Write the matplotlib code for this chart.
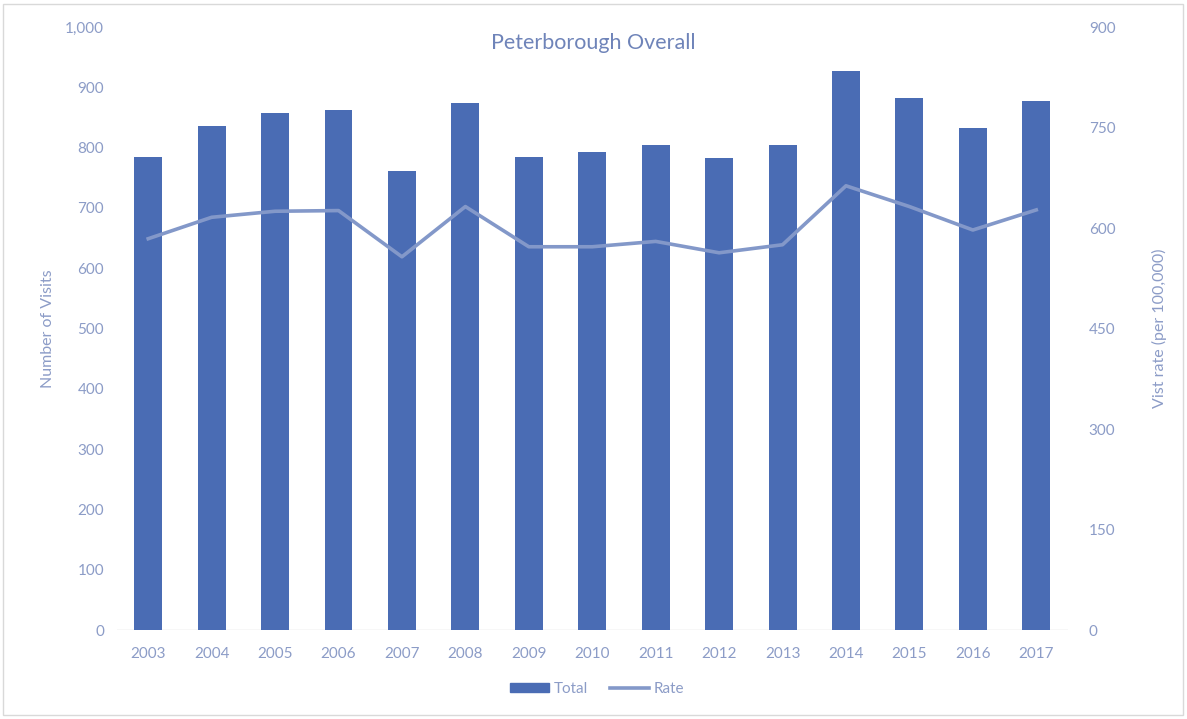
import matplotlib
matplotlib.use("Agg")
import matplotlib.pyplot as plt
from matplotlib.patches import Rectangle
from matplotlib.lines import Line2D
from matplotlib.ticker import FuncFormatter, MultipleLocator

years = ["2003", "2004", "2005", "2006", "2007", "2008", "2009", "2010",
         "2011", "2012", "2013", "2014", "2015", "2016", "2017"]
total_visits = [785, 835, 858, 862, 762, 874, 785, 792,
                804, 783, 804, 927, 882, 833, 878]
visit_rate = [584, 616, 625, 626, 557, 632, 572, 572,
              580, 563, 575, 663, 632, 597, 627]

bar_color = "#4a6cb4"
line_color = "#8398c9"
text_color = "#8c9cc7"
title_color = "#6f84b9"

plt.rcParams["font.family"] = ["Lato", "DejaVu Sans"]

fig = plt.figure(figsize=(11.87, 7.19), dpi=100)
W, H = 1187, 719
ax = fig.add_axes([116.5 / W, 1 - 630 / H, (1068 - 116.5) / W, (630 - 27) / H])
ax2 = ax.twinx()

x = list(range(len(years)))
ax.bar(x, total_visits, width=0.44, color=bar_color, zorder=2)
ax2.plot(x, visit_rate, color=line_color, linewidth=2.6, zorder=3)

ax.set_xlim(-0.5, len(years) - 0.5)
ax.set_ylim(0, 1000)
ax2.set_ylim(0, 900)
ax.yaxis.set_major_locator(MultipleLocator(100))
ax2.yaxis.set_major_locator(MultipleLocator(150))
ax.yaxis.set_major_formatter(FuncFormatter(lambda v, p: f"{int(v):,}"))

ax.set_xticks(x)
ax.set_xticklabels(years)

for a in (ax, ax2):
    for s in ("top", "left", "right", "bottom"):
        a.spines[s].set_visible(False)
    a.tick_params(length=0, labelsize=11, colors=text_color)
ax.tick_params(axis="y", pad=9)
ax2.tick_params(axis="y", pad=15)
ax.tick_params(axis="x", pad=12)
ax.axhline(0, color="#d9d9d9", linewidth=1, zorder=1)
ax.set_zorder(ax2.get_zorder() - 1)
ax.patch.set_visible(False)

ax.set_ylabel("Number of Visits", color=text_color, fontsize=11.5, labelpad=7)
ax2.set_ylabel("Vist rate (per 100,000)", color=text_color, fontsize=11.5, labelpad=26)

fig.text(593 / W, 1 - 43 / H, "Peterborough Overall", ha="center", va="center",
         fontsize=15.5, color=title_color)

handles = [Rectangle((0, 0), 1, 1, color=bar_color),
           Line2D([0], [0], color=line_color, linewidth=2.6)]
fig.legend(handles, ["Total", "Rate"], loc="center", bbox_to_anchor=(597 / W, 1 - 689 / H),
           ncol=2, frameon=False, fontsize=11, labelcolor=text_color,
           handlelength=2.6, handletextpad=0.3, columnspacing=1.4,
           handleheight=0.6)

fig.patches.append(Rectangle((3 / W, 4 / H), 1180 / W, 711 / H, transform=fig.transFigure,
                             fill=False, edgecolor="#d9d9d9", linewidth=1))

fig.savefig("out.png", dpi=100, facecolor="white")
